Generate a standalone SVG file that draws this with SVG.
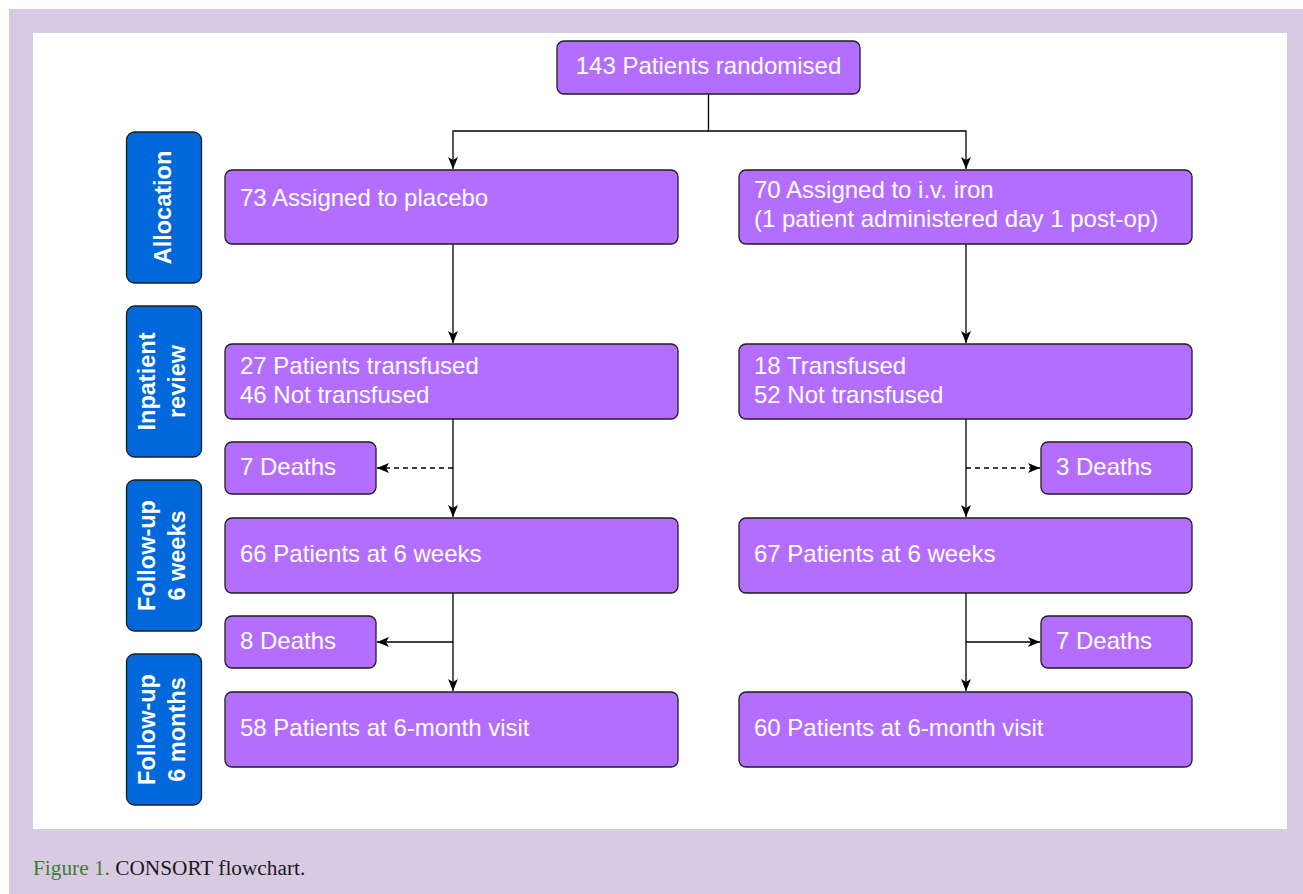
<svg xmlns="http://www.w3.org/2000/svg" width="1303" height="894" viewBox="0 0 1303 894">
<style>
.bg{fill:#D9CAE3}
.panel{fill:#FFFFFF}
.box{fill:#B46EFF;stroke:#1E1E1E;stroke-width:1.3}
.side{fill:#0068DB;stroke:#1E1E1E;stroke-width:1.3}
.t{font-family:"Liberation Sans",Arial,sans-serif;font-size:24px;fill:#FFFFFF}
.st{font-family:"Liberation Sans",Arial,sans-serif;font-size:23.5px;font-weight:bold;fill:#FFFFFF;text-anchor:middle}
.ln{fill:none;stroke:#000000;stroke-width:1.3}
.dash{stroke-dasharray:5 4}
.cap{font-family:"Liberation Serif","Times New Roman",serif;font-size:21.3px}
</style>
<defs>
<marker id="arr" markerUnits="userSpaceOnUse" markerWidth="14" markerHeight="12" viewBox="0 0 14 12" refX="13" refY="6" orient="auto">
<path d="M13,6 L1,1 L4,6 L1,11 Z" fill="#000000"/>
</marker>
</defs>
<rect x="0" y="0" width="1303" height="894" fill="#FFFFFF"/>
<rect class="bg" x="9" y="9" width="1294" height="885"/>
<rect class="panel" x="33" y="33" width="1254" height="796"/>
<text class="cap" x="33" y="875"><tspan fill="#3E7D34">Figure 1.</tspan><tspan fill="#1A1A1A"> CONSORT flowchart.</tspan></text>

<g id="connectors">
<path class="ln" d="M708.5,94 V131 H453 V169" marker-end="url(#arr)"/>
<path class="ln" d="M708.5,131 H966 V169" marker-end="url(#arr)"/>
<path class="ln" d="M453,244 V343" marker-end="url(#arr)"/>
<path class="ln" d="M966,244 V343" marker-end="url(#arr)"/>
<path class="ln" d="M453,419 V517" marker-end="url(#arr)"/>
<path class="ln" d="M966,419 V517" marker-end="url(#arr)"/>
<path class="ln dash" d="M453,468 H377" marker-end="url(#arr)"/>
<path class="ln dash" d="M966,468 H1040" marker-end="url(#arr)"/>
<path class="ln" d="M453,593 V691" marker-end="url(#arr)"/>
<path class="ln" d="M966,593 V691" marker-end="url(#arr)"/>
<path class="ln" d="M453,642 H377" marker-end="url(#arr)"/>
<path class="ln" d="M966,642 H1040" marker-end="url(#arr)"/>
</g>

<g id="side-allocation">
<rect class="side" x="126.5" y="132" width="75" height="151" rx="8"/>
<text class="st" transform="translate(164,207.5) rotate(-90)" x="0" y="7">Allocation</text>
</g>
<g id="side-inpatient">
<rect class="side" x="126.5" y="306" width="75" height="151" rx="8"/>
<text class="st" transform="translate(164,381.5) rotate(-90)"><tspan x="0" y="-9">Inpatient</tspan><tspan x="0" y="21">review</tspan></text>
</g>
<g id="side-6weeks">
<rect class="side" x="126.5" y="480" width="75" height="151" rx="8"/>
<text class="st" transform="translate(164,555.5) rotate(-90)"><tspan x="0" y="-9">Follow-up</tspan><tspan x="0" y="21">6 weeks</tspan></text>
</g>
<g id="side-6months">
<rect class="side" x="126.5" y="654" width="75" height="151" rx="8"/>
<text class="st" transform="translate(164,729.5) rotate(-90)"><tspan x="0" y="-9">Follow-up</tspan><tspan x="0" y="21">6 months</tspan></text>
</g>

<g id="randomised">
<rect class="box" x="557" y="41" width="303" height="53" rx="7"/>
<text class="t" x="708.5" y="74" text-anchor="middle">143 Patients randomised</text>
</g>
<g id="placebo">
<rect class="box" x="225" y="170" width="453" height="74" rx="7"/>
<text class="t" x="240" y="206">73 Assigned to placebo</text>
</g>
<g id="iron">
<rect class="box" x="739" y="170" width="453" height="74" rx="7"/>
<text class="t"><tspan x="754" y="198">70 Assigned to i.v. iron</tspan><tspan x="754" y="227">(1 patient administered day 1 post-op)</tspan></text>
</g>
<g id="placebo-inpatient">
<rect class="box" x="225" y="344" width="453" height="75" rx="7"/>
<text class="t"><tspan x="240" y="374">27 Patients transfused</tspan><tspan x="240" y="403">46 Not transfused</tspan></text>
</g>
<g id="iron-inpatient">
<rect class="box" x="739" y="344" width="453" height="75" rx="7"/>
<text class="t"><tspan x="754" y="374">18 Transfused</tspan><tspan x="754" y="403">52 Not transfused</tspan></text>
</g>
<g id="placebo-deaths-1">
<rect class="box" x="225" y="442" width="151" height="52" rx="7"/>
<text class="t" x="240" y="475">7 Deaths</text>
</g>
<g id="iron-deaths-1">
<rect class="box" x="1041" y="442" width="151" height="52" rx="7"/>
<text class="t" x="1056" y="475">3 Deaths</text>
</g>
<g id="placebo-6weeks">
<rect class="box" x="225" y="518" width="453" height="75" rx="7"/>
<text class="t" x="240" y="562">66 Patients at 6 weeks</text>
</g>
<g id="iron-6weeks">
<rect class="box" x="739" y="518" width="453" height="75" rx="7"/>
<text class="t" x="754" y="562">67 Patients at 6 weeks</text>
</g>
<g id="placebo-deaths-2">
<rect class="box" x="225" y="616" width="151" height="52" rx="7"/>
<text class="t" x="240" y="649">8 Deaths</text>
</g>
<g id="iron-deaths-2">
<rect class="box" x="1041" y="616" width="151" height="52" rx="7"/>
<text class="t" x="1056" y="649">7 Deaths</text>
</g>
<g id="placebo-6months">
<rect class="box" x="225" y="692" width="453" height="75" rx="7"/>
<text class="t" x="240" y="736">58 Patients at 6-month visit</text>
</g>
<g id="iron-6months">
<rect class="box" x="739" y="692" width="453" height="75" rx="7"/>
<text class="t" x="754" y="736">60 Patients at 6-month visit</text>
</g>
</svg>
